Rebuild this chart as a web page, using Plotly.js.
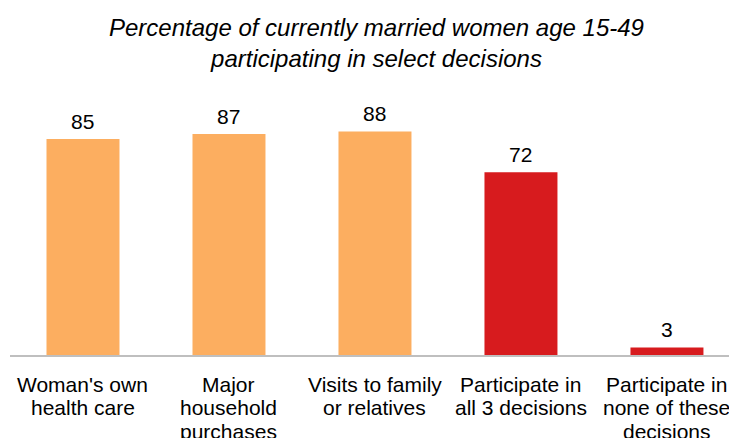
<!DOCTYPE html>
<html>
<head>
<meta charset="utf-8">
<script src="https://cdn.plot.ly/plotly-3.0.1.min.js"></script>
<style>html,body{margin:0;padding:0;background:#fff;}#chart{width:729px;height:438px;}</style>
</head>
<body>
<div id="chart"></div>
<script>
var categories = ["Woman's own health care", "Major household purchases", "Visits to family or relatives", "Participate in all 3 decisions", "Participate in none of these decisions"];
var labelLines = [
  ["Woman's own", "health care"],
  ["Major", "household", "purchases"],
  ["Visits to family", "or relatives"],
  ["Participate in", "all 3 decisions"],
  ["Participate in", "none of these", "decisions"]
];
var values = [85, 87, 88, 72, 3];
var barColors = ["#FCAE60", "#FCAE60", "#FCAE60", "#D71B1E", "#D71B1E"];
var titleText = "Percentage of currently married women age 15-49<br>participating in select decisions";

var FONT = "Liberation Sans, Arial, sans-serif";
var xs = values.map(function (v, i) { return i; });
var trace = {
  type: 'bar',
  x: xs,
  y: values,
  width: 0.5,
  marker: {color: barColors},
  hoverinfo: 'none'
};

var annotations = [];
values.forEach(function (v, i) {
  annotations.push({
    x: i, xref: 'x', y: v, yref: 'y',
    text: String(v), showarrow: false,
    xanchor: 'center', yanchor: 'middle',
    yshift: 18,
    font: {family: FONT, size: 21, color: '#000'}
  });
});
labelLines.forEach(function (lines, i) {
  lines.forEach(function (line, k) {
    annotations.push({
      x: i, xref: 'x', y: 0, yref: 'paper',
      text: line, showarrow: false,
      xanchor: 'center', yanchor: 'middle',
      yshift: -(29 + 23.5 * k),
      font: {family: FONT, size: 21, color: '#000'}
    });
  });
});

var layout = {
  width: 729, height: 438,
  margin: {l: 10, r: 0, t: 100, b: 83},
  paper_bgcolor: '#fff', plot_bgcolor: '#fff',
  showlegend: false,
  title: {
    text: titleText,
    font: {family: FONT, size: 24, color: '#000', style: 'italic'},
    xref: 'container', x: 376.5/729, xanchor: 'center',
    yref: 'container', y: 1 - 36/438, yanchor: 'top'
  },
  xaxis: {
    range: [-0.5, 4.425],
    tickmode: 'array', tickvals: xs, ticktext: categories,
    showticklabels: false,
    showline: true, linecolor: '#BFBFBF', linewidth: 2,
    showgrid: false, zeroline: false, ticks: '', fixedrange: true
  },
  yaxis: {
    range: [0, 100.4], visible: false, showgrid: false, zeroline: false, fixedrange: true
  },
  annotations: annotations
};
Plotly.newPlot('chart', [trace], layout, {displayModeBar: false, staticPlot: true});
</script>
</body>
</html>
